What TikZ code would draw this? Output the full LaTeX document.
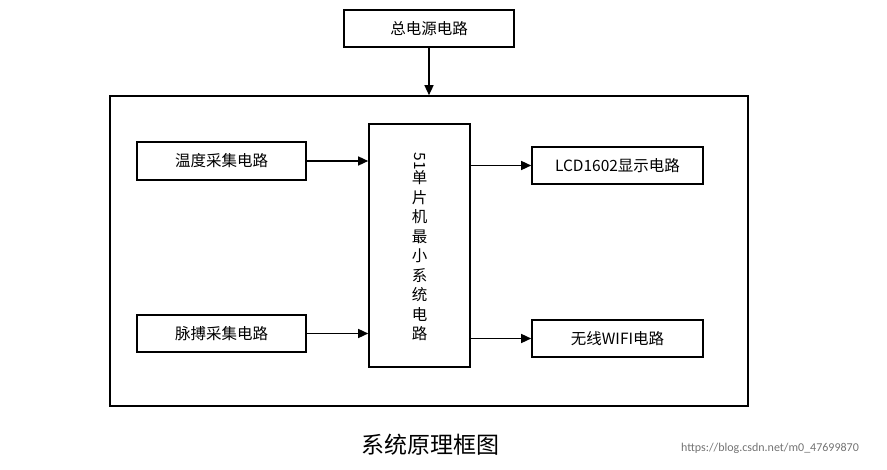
\documentclass[tikz,border=0pt]{standalone}
\usepackage{fontspec}
\setmainfont{Carlito}
\newfontfamily\cjk{Noto Sans CJK SC}
\usetikzlibrary{arrows.meta}
\begin{document}
\begin{tikzpicture}[x=1pt,y=-1pt,
  blk/.style={draw=black,line width=1.6pt,fill=white,inner sep=0pt,font=\cjk\fontsize{15.5}{18}\selectfont},
  arr/.style={-{Triangle[length=10pt,width=9pt]},line width=1.4pt}]
\useasboundingbox (0,0) rectangle (887,470);
\node[blk,minimum width=170pt,minimum height=37pt] (top) at (429,28.5) {总电源电路};
\node[draw=black,line width=1.6pt,minimum width=638pt,minimum height=310pt] (big) at (429,251) {};
\node[blk,minimum width=169pt,minimum height=38pt] (temp) at (221.5,161) {温度采集电路};
\node[blk,minimum width=169pt,minimum height=37pt] (pulse) at (221.5,333.5) {脉搏采集电路};
\node[blk,minimum width=101pt,minimum height=243pt] (mcu) at (419.5,245.5) {};
\node[font=\cjk\fontsize{15.5}{19.5}\selectfont,align=center] (mcut) at (419.5,247)
  {\rotatebox{-90}{51}\\单\\片\\机\\最\\小\\系\\统\\电\\路};
\node[blk,minimum width=171pt,minimum height=37pt] (lcd) at (617.5,165.5) {LCD1602{\cjk 显示电路}};
\node[blk,minimum width=171pt,minimum height=37pt] (wifi) at (617.5,338.5) {无线WIFI{\cjk 电路}};
\draw[arr] (top.south) -- (big.north -| top.south);
\draw[arr] (temp.east) -- (temp.east -| mcu.west);
\draw[arr] (pulse.east) -- (pulse.east -| mcu.west);
\draw[arr] (mcu.east |- lcd.west) -- (lcd.west);
\draw[arr] (mcu.east |- wifi.west) -- (wifi.west);
\node[font=\cjk\fontsize{23}{26}\selectfont] (cap) at (430,445) {系统原理框图};
\node[font=\fontsize{12}{14}\selectfont,text=black!55] (w) at (770,448) {https://blog.csdn.net/m0\_47699870};
\end{tikzpicture}
\end{document}
